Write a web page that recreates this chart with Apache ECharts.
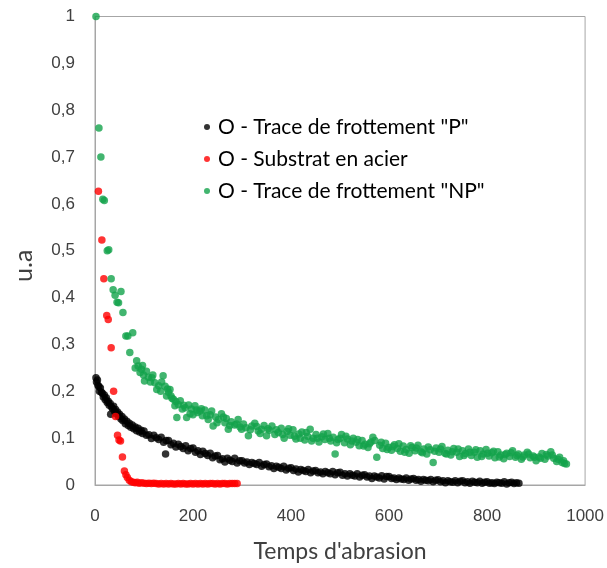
<!DOCTYPE html>
<html>
<head>
<meta charset="utf-8">
<script src="https://cdn.jsdelivr.net/npm/echarts@6/dist/echarts.min.js"></script>
<style>html,body{margin:0;padding:0;background:#fff}#c{width:607px;height:568px}</style>
</head>
<body>
<div id="c"></div>
<script>
const seriesNames = ['O - Trace de frottement "P"', 'O - Substrat en acier', 'O - Trace de frottement "NP"'];
const xAxisTitle = "Temps d'abrasion";
const yAxisTitle = 'u.a';

const traceP = [[2,0.229],[3,0.22],[5,0.224],[6,0.213],[8,0.21],[9,0.2],[11,0.207],[13,0.198],[15,0.196],[17,0.188],[19,0.192],[21,0.182],[23,0.186],[25,0.176],[27,0.179],[29,0.17],[31,0.174],[32,0.151],[34,0.166],[36,0.163],[38,0.168],[40,0.157],[42,0.161],[44,0.152],[46,0.156],[48,0.146],[50,0.151],[53,0.141],[55,0.146],[57,0.137],[60,0.141],[62,0.131],[65,0.136],[68,0.127],[70,0.132],[73,0.123],[76,0.128],[79,0.12],[82,0.124],[85,0.116],[88,0.121],[91,0.113],[94,0.117],[97,0.11],
[100,0.115],[105,0.106],[110,0.107],[115,0.099],[120,0.106],[125,0.101],[130,0.097],[135,0.102],[140,0.091],[144,0.066],[145,0.095],[150,0.095],[155,0.086],[160,0.089],[165,0.081],[170,0.087],[175,0.082],[180,0.078],[185,0.084],[190,0.073],[195,0.078],[200,0.079],[205,0.07],[210,0.073],[215,0.065],[220,0.072],[225,0.067],[230,0.063],[235,0.068],[240,0.058],[245,0.062],[250,0.063],[255,0.054],[260,0.056],[265,0.049],[270,0.057],[275,0.053],[280,0.05],[285,0.057],[290,0.047],[295,0.052],[300,0.052],[305,0.047],[310,0.049],[315,0.044],[320,0.048],[325,0.046],[330,0.044],[335,0.048],[340,0.04],[345,0.044],[350,0.045],[355,0.039],[360,0.041],[365,0.035],[370,0.04],[375,0.038],[380,0.035],[385,0.04],[390,0.032],[395,0.036],[400,0.037],[405,0.031],[410,0.034],[415,0.028],[420,0.033],[425,0.031],[430,0.029],[435,0.033],[440,0.026],[445,0.03],[450,0.031],[455,0.026],[460,0.028],[465,0.024],[470,0.029],[475,0.026],[480,0.024],[485,0.029],[490,0.022],[495,0.026],[500,0.027],[505,0.021],[510,0.024],[515,0.019],[520,0.024],[525,0.021],[530,0.019],[535,0.024],[540,0.017],[545,0.021],[550,0.022],[555,0.017],[560,0.019],[565,0.014],[570,0.019],[575,0.017],[580,0.015],[585,0.02],[590,0.013],[595,0.018],[600,0.018],[605,0.014],[610,0.015],[615,0.012],[620,0.015],[625,0.013],[630,0.012],[635,0.015],[640,0.01],[645,0.013],[650,0.014],[655,0.01],[660,0.012],[665,0.008],[670,0.012],[675,0.01],[680,0.009],[685,0.012],[690,0.007],[695,0.01],[700,0.011],[705,0.007],[710,0.009],[715,0.005],[720,0.009],[725,0.007],[730,0.006],[735,0.009],[740,0.005],[745,0.008],[750,0.009],[755,0.005],[760,0.007],[765,0.004],[770,0.008],[775,0.006],[780,0.005],[785,0.008],[790,0.004],[795,0.006],[800,0.007],[805,0.004],[810,0.005],[815,0.003],[820,0.006],[825,0.005],[830,0.004],[835,0.007],[840,0.002],[845,0.005],[850,0.006],[855,0.003],[860,0.005],[865,0.004]];

const substrat = [[7,0.627],[14,0.523],[18,0.44],[24,0.362],[27,0.353],[33,0.293],[38,0.2],[42,0.146],[46,0.106],[49,0.096],[52,0.094],[56,0.06],[60,0.03],[63,0.022],[66,0.016],[70,0.01],[74,0.007],[78,0.006],[82,0.005],[86,0.006],[90,0.004],[95,0.005],[100,0.004],[105,0.003],[110,0.004],[115,0.003],[120,0.004],[125,0.003],[130,0.002],[135,0.003],[140,0.002],[145,0.003],[150,0.002],[155,0.003],[160,0.002],[165,0.002],[170,0.003],[175,0.002],[180,0.003],[185,0.002],[190,0.002],[195,0.003],[200,0.002],[205,0.003],[210,0.002],[215,0.003],[220,0.002],[225,0.003],[230,0.002],[235,0.003],[240,0.003],[245,0.002],[250,0.003],[255,0.002],[260,0.003],[265,0.003],[270,0.002],[275,0.003],[280,0.003],[285,0.003],[290,0.003]];

const traceNP = [[2,1.0],[8,0.762],[12,0.70],[16,0.61],[19,0.607],[25,0.50],[28,0.502],[33,0.44],[37,0.417],[41,0.405],[45,0.39],[48,0.389],[53,0.413],[57,0.368],[63,0.318],[67,0.318],[71,0.283],[77,0.325],[82,0.25],[85,0.265],[88,0.254],[92,0.24],[95,0.247],[97,0.255],[99,0.235],[101,0.222],[105,0.243],[109,0.23],[113,0.22],[116,0.229],[118,0.235],[122,0.218],[126,0.204],[130,0.212],[134,0.2],[136,0.22],[139,0.233],[143,0.211],[146,0.19],[148,0.205],[150,0.198],[153,0.204],[155,0.19],[157,0.185],[160,0.183],[163,0.169],[165,0.178],[167,0.144],[170,0.172],[174,0.18],[178,0.162],[181,0.17],[184,0.165],[187,0.144],[191,0.171],[194,0.152],[197,0.162],[200,0.15],[204,0.169],[207,0.16],[209,0.155],[214,0.158],[217,0.163],[219,0.148],[224,0.16],[228,0.148],[231,0.14],[235,0.15],[238,0.158],[241,0.126],[246,0.145],[249,0.133],[252,0.14],[258,0.152],[262,0.145],[265,0.133],[268,0.142],[272,0.119],[275,0.127],[278,0.135],[285,0.128],[289,0.13],[292,0.14],[296,0.124],[299,0.119],[303,0.13],[308,0.122],[313,0.105],[317,0.118],[320,0.126],[326,0.132],[330,0.125],[333,0.115],[337,0.11],[340,0.119],[345,0.127],[350,0.105],[353,0.12],[356,0.117],[361,0.126],[367,0.108],[370,0.118],[374,0.112],[380,0.121],[383,0.108],[386,0.1],[392,0.114],[395,0.12],[398,0.106],[404,0.118],[407,0.104],[410,0.098],[416,0.109],[419,0.1],[422,0.113],[428,0.096],[431,0.112],[434,0.104],[439,0.119],[442,0.094],[445,0.1],[451,0.108],[454,0.1],[457,0.092],[463,0.103],[466,0.109],[469,0.097],[475,0.11],[478,0.1],[481,0.094],[486,0.102],[490,0.066],[493,0.09],[496,0.097],[500,0.1],[503,0.108],[509,0.09],[512,0.104],[515,0.098],[521,0.086],[524,0.094],[527,0.1],[533,0.091],[536,0.097],[539,0.084],[545,0.095],[548,0.083],[551,0.087],[557,0.08],[560,0.088],[563,0.092],[567,0.102],[571,0.095],[575,0.059],[581,0.085],[584,0.091],[587,0.078],[593,0.089],[596,0.076],[599,0.08],[605,0.074],[608,0.082],[611,0.086],[617,0.078],[620,0.088],[623,0.072],[629,0.083],[632,0.07],[635,0.076],[641,0.068],[644,0.084],[647,0.08],[653,0.073],[656,0.079],[659,0.085],[665,0.071],[668,0.069],[671,0.077],[677,0.066],[680,0.081],[684,0.075],[690,0.048],[693,0.072],[696,0.079],[702,0.07],[705,0.077],[708,0.082],[714,0.068],[717,0.066],[720,0.074],[726,0.064],[729,0.071],[732,0.078],[738,0.07],[741,0.077],[744,0.061],[750,0.073],[753,0.063],[756,0.067],[762,0.077],[765,0.07],[768,0.063],[774,0.07],[777,0.075],[780,0.059],[786,0.073],[789,0.061],[792,0.066],[798,0.076],[801,0.068],[804,0.062],[810,0.069],[813,0.072],[816,0.058],[822,0.071],[825,0.06],[828,0.064],[834,0.056],[837,0.065],[840,0.068],[846,0.061],[849,0.069],[852,0.073],[858,0.059],[861,0.063],[864,0.066],[870,0.055],[873,0.06],[876,0.064],[882,0.07],[885,0.066],[888,0.058],[894,0.062],[897,0.059],[900,0.052],[906,0.06],[909,0.057],[912,0.067],[918,0.055],[921,0.065],[924,0.062],[930,0.071],[933,0.064],[936,0.057],[942,0.05],[945,0.055],[948,0.059],[953,0.048],[956,0.052],[958,0.046],[962,0.045]];

const colors = ['#000000', '#ff0000', '#13a24b'];

const chart = echarts.init(document.getElementById('c'), null, {renderer: 'canvas'});
const labelFont = {fontFamily: 'Liberation Sans', fontSize: 17, color: '#404040'};
chart.setOption({
  animation: false,
  backgroundColor: '#fff',
  grid: {left: 95, right: 21, top: 16.5, bottom: 81.5, show: true, borderColor: '#a6a6a6', borderWidth: 1, containLabel: false},
  legend: {
    orient: 'vertical', left: 204, top: 116, padding: 0, itemGap: 10,
    itemWidth: 6, itemHeight: 6, icon: 'circle',
    textStyle: {fontFamily: 'Lato', fontSize: 21, color: '#000', lineHeight: 22, padding: [0, 0, 0, 3]},
    data: seriesNames
  },
  xAxis: {
    type: 'value', min: 0, max: 1000, interval: 200,
    name: xAxisTitle, nameLocation: 'middle', nameGap: 55,
    nameTextStyle: {fontFamily: 'Lato', fontSize: 23, color: '#404040'},
    axisLine: {show: true, lineStyle: {color: '#a6a6a6'}},
    axisTick: {show: false}, splitLine: {show: false},
    axisLabel: Object.assign({margin: 23, formatter: v => String(v)}, labelFont)
  },
  yAxis: {
    type: 'value', min: 0, max: 1, interval: 0.1,
    name: yAxisTitle, nameLocation: 'middle', nameGap: 59, nameRotate: 90,
    nameTextStyle: {fontFamily: 'Lato', fontSize: 25, color: '#404040', padding: [0, 30, 0, 0]},
    axisLine: {show: true, lineStyle: {color: '#a6a6a6'}},
    axisTick: {show: false}, splitLine: {show: false},
    axisLabel: Object.assign({margin: 20, formatter: v => String(Math.round(v * 10) / 10).replace('.', ',')}, labelFont)
  },
  series: [
    {name: seriesNames[0], type: 'scatter', data: traceP, symbolSize: 7.5, itemStyle: {color: colors[0]}},
    {name: seriesNames[1], type: 'scatter', data: substrat, symbolSize: 7.5, itemStyle: {color: colors[1]}},
    {name: seriesNames[2], type: 'scatter', data: traceNP, symbolSize: 7.5, itemStyle: {color: colors[2]}}
  ]
});
</script>
</body>
</html>
